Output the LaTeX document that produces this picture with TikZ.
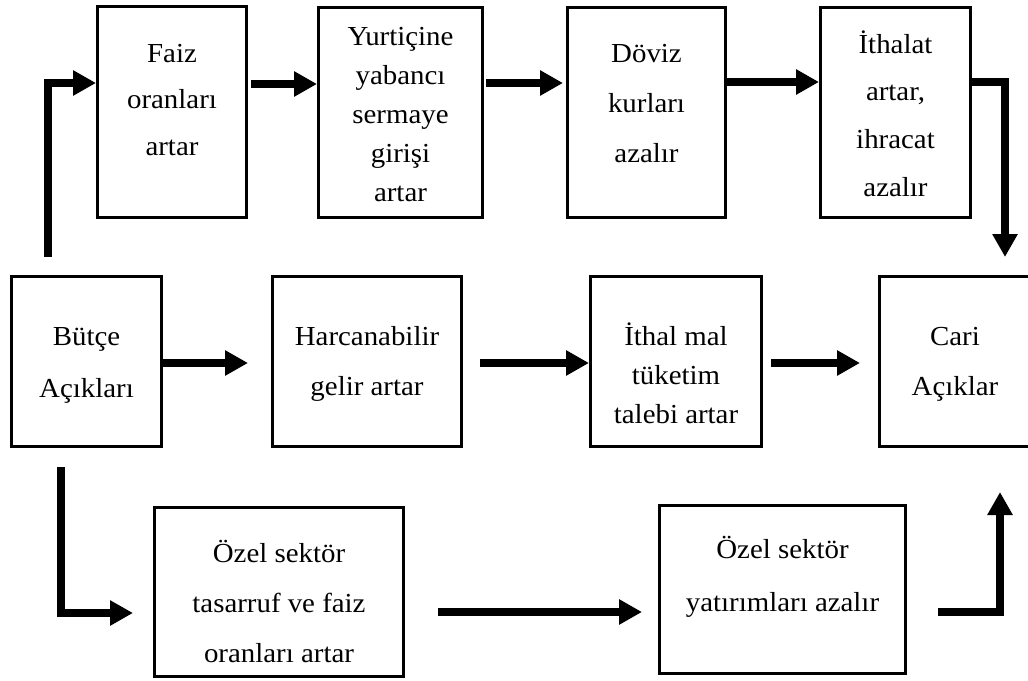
\documentclass[tikz,border=0pt]{standalone}
\usepackage{fontspec}
\setmainfont{Liberation Serif}[FakeStretch=1.05]
\usetikzlibrary{arrows.meta}
\newcommand\boxtext[2]{\fontsize{27.5pt}{#1}\selectfont\begin{tabular}[t]{@{}c@{}}#2\end{tabular}}
\begin{document}
\begin{tikzpicture}[x=1pt,y=-1pt,
  box/.style={draw, line width=3pt, inner sep=0pt, fill=white},
  txt/.style={anchor=base, inner sep=0pt},
  arr/.style={line width=7.5pt, line join=miter, -{Triangle[length=23pt,width=24pt]}}]
\useasboundingbox (0,0) rectangle (1028,680);
\fill[white] (0,0) rectangle (1028,680);
% boxes
\node[box, minimum width=149pt, minimum height=211pt] (faiz) at (172,112) {};
\node[box, minimum width=164pt, minimum height=210pt] (yurt) at (400.5,112.5) {};
\node[box, minimum width=158pt, minimum height=210pt] (doviz) at (646.5,112.5) {};
\node[box, minimum width=150pt, minimum height=210pt] (ithalat) at (895.5,112.5) {};
\node[box, minimum width=150pt, minimum height=170pt] (butce) at (86.5,361.5) {};
\node[box, minimum width=189pt, minimum height=170pt] (harc) at (367,361.5) {};
\node[box, minimum width=171pt, minimum height=170pt] (ithal) at (676,361.5) {};
\node[box, minimum width=151pt, minimum height=170pt] (cari) at (955,361.5) {};
\node[box, minimum width=249pt, minimum height=169pt] (ozelA) at (279,592) {};
\node[box, minimum width=246pt, minimum height=168pt] (ozelB) at (782.5,589.5) {};
% texts
\node[txt] (faizT) at (172,62) {\boxtext{46.5pt}{Faiz\\oranları\\artar}};
\node[txt] (yurtT) at (400.5,45) {\boxtext{39.25pt}{Yurtiçine\\yabancı\\sermaye\\girişi\\artar}};
\node[txt] (dovizT) at (646.5,62) {\boxtext{50pt}{Döviz\\kurları\\azalır}};
\node[txt] (ithalatT) at (895.5,53) {\boxtext{47.8pt}{İthalat\\artar,\\ihracat\\azalır}};
\node[txt] (butceT) at (86.5,345) {\boxtext{52pt}{Bütçe\\Açıkları}};
\node[txt] (harcT) at (367,345) {\boxtext{50pt}{Harcanabilir\\gelir artar}};
\node[txt] (ithalT) at (676,345) {\boxtext{39pt}{İthal mal\\tüketim\\talebi artar}};
\node[txt] (cariT) at (955,345) {\boxtext{50pt}{Cari\\Açıklar}};
\node[txt] (ozelAT) at (279,562) {\boxtext{50pt}{Özel sektör\\tasarruf ve faiz\\oranları artar}};
\node[txt] (ozelBT) at (782.5,558) {\boxtext{53pt}{Özel sektör\\yatırımları azalır}};
% connectors
\draw[arr] ([xshift=-38.5pt,yshift=18pt]butce.north) |- ([yshift=29pt]faiz.west);
\draw[arr, shorten <=3pt] ([yshift=28pt]faiz.east) -- ([yshift=28pt]faiz.east -| yurt.west);
\draw[arr, shorten <=2pt, shorten >=3pt] ([yshift=29.5pt]yurt.east) -- ([yshift=29.5pt]yurt.east -| doviz.west);
\draw[arr] ([yshift=30.5pt]doviz.east) -- ([yshift=30.5pt]doviz.east -| ithalat.west);
\draw[arr] ([yshift=30.5pt]ithalat.east) -| ([xshift=50pt,yshift=18pt]cari.north);
\draw[arr, shorten >=23pt] ([yshift=-1.5pt]butce.east) -- ([yshift=-1.5pt]butce.east -| harc.west);
\draw[arr, shorten <=17pt] ([yshift=-1.5pt]harc.east) -- ([yshift=-1.5pt]harc.east -| ithal.west);
\draw[arr, shorten <=8pt, shorten >=18pt] ([yshift=-1.5pt]ithal.east) -- ([yshift=-1.5pt]ithal.east -| cari.west);
\draw[arr, shorten >=20pt] ([xshift=-25.5pt,yshift=-19pt]butce.south) |- ([yshift=-21pt]ozelA.west);
\draw[arr, shorten <=33pt, shorten >=16pt] ([yshift=-20pt]ozelA.east) -- ([yshift=-20pt]ozelA.east -| ozelB.west);
\draw[arr, shorten <=31pt] ([yshift=-22.5pt]ozelB.east) -| ([xshift=45pt,yshift=-44pt]cari.south);
\end{tikzpicture}
\end{document}
